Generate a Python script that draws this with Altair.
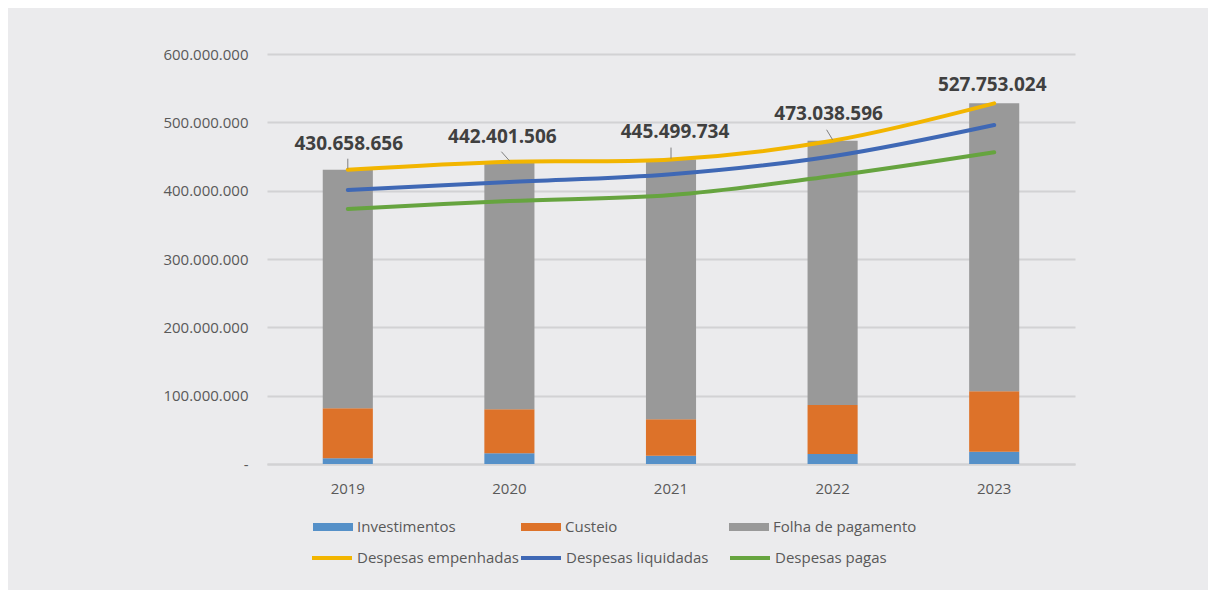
import altair as alt
import pandas as pd

years = ["2019", "2020", "2021", "2022", "2023"]
investimentos = [8_300_000, 15_600_000, 12_200_000, 14_600_000, 18_000_000]
custeio = [73_200_000, 64_400_000, 53_200_000, 71_800_000, 88_400_000]
folha = [349_158_656, 362_401_506, 380_099_734, 386_638_596, 421_353_024]
empenhadas = [430_658_656, 442_401_506, 445_499_734, 473_038_596, 527_753_024]
liquidadas = [401_000_000, 412_700_000, 424_000_000, 450_500_000, 496_200_000]
pagas = [373_200_000, 384_900_000, 393_700_000, 421_500_000, 456_200_000]

bar_series = ["Investimentos", "Custeio", "Folha de pagamento"]
bar_colors = ["#5590C8", "#DD7229", "#999999"]
line_series = ["Despesas empenhadas", "Despesas liquidadas", "Despesas pagas"]
line_colors = ["#F2B500", "#3F68B5", "#66A43F"]

rows = []
for i, y in enumerate(years):
    for k, (name, vals) in enumerate(zip(bar_series, [investimentos, custeio, folha])):
        rows.append({"ano": y, "serie": name, "valor": vals[i], "ordem": k})
bars_df = pd.DataFrame(rows)

lrows = []
for i, y in enumerate(years):
    for name, vals in zip(line_series, [empenhadas, liquidadas, pagas]):
        lrows.append({"ano": y, "serie": name, "valor": vals[i]})
lines_df = pd.DataFrame(lrows)

lab_df = pd.DataFrame({
    "ano": years,
    "valor": empenhadas,
    "rotulo": [f"{v:,}".replace(",", ".") for v in empenhadas],
})

FONT = "Open Sans"
x_enc = alt.X("ano:N", title=None, sort=years,
              scale=alt.Scale(paddingInner=0.69, paddingOuter=0.345),
              axis=alt.Axis(labelAngle=0, labelFontSize=15, labelColor="#595959",
                            labelFont=FONT, labelPadding=17, ticks=False,
                            domainColor="#D2D2D4", domainWidth=2))
y_scale = alt.Scale(domain=[0, 600_000_000])

bars = alt.Chart(bars_df).mark_bar().encode(
    x=x_enc,
    y=alt.Y("sum(valor):Q", title=None, scale=y_scale, stack="zero",
            axis=alt.Axis(values=[0, 100_000_000, 200_000_000, 300_000_000, 400_000_000,
                                  500_000_000, 600_000_000],
                          format=",.0f",
                          labelExpr="datum.value == 0 ? '-\u00a0\u00a0\u00a0' : datum.label",
                          labelFontSize=15, labelColor="#595959", labelFont=FONT,
                          labelPadding=19, ticks=False, domain=False,
                          gridColor="#D2D2D4", gridWidth=2)),
    fill=alt.Fill("serie:N", sort=bar_series,
                  scale=alt.Scale(domain=bar_series, range=bar_colors),
                  legend=alt.Legend(title=None, orient="none", legendX=46, legendY=453,
                                    direction="horizontal", columns=3, gridAlign="all",
                                    columnPadding=20, labelLimit=300,
                                    symbolType="M-1,-0.2H1V0.2H-1Z", symbolSize=1600,
                                    symbolStrokeWidth=0, labelOffset=4,
                                    labelFontSize=15, labelColor="#595959", labelFont=FONT,
                                    padding=0)),
    order=alt.Order("ordem:Q", sort="ascending"),
)

lines = alt.Chart(lines_df).mark_line(strokeWidth=4, interpolate="catmull-rom",
                                      strokeCap="round").encode(
    x=alt.X("ano:N", sort=years),
    y=alt.Y("valor:Q", scale=y_scale),
    stroke=alt.Stroke("serie:N", sort=line_series,
                      scale=alt.Scale(domain=line_series, range=line_colors),
                      legend=alt.Legend(title=None, orient="none", legendX=43, legendY=482,
                                        direction="horizontal", columns=3, gridAlign="all",
                                        columnPadding=-6, labelLimit=300,
                                        symbolType="stroke", symbolSize=1600,
                                        symbolStrokeWidth=4, labelOffset=3,
                                        labelFontSize=15, labelColor="#595959",
                                        labelFont=FONT, padding=0)),
)

label_style = {
    "2019": {"dx": 1, "dy": -26, "lx": 0, "ly1": -1, "ly2": -11},
    "2020": {"dx": -7, "dy": -25, "lx": -8, "ly1": -1, "ly2": -10},
    "2021": {"dx": 4, "dy": -28, "lx": 0, "ly1": -1, "ly2": -12},
    "2022": {"dx": -4, "dy": -27, "lx": -6, "ly1": -1, "ly2": -11},
    "2023": {"dx": -2, "dy": -18, "lx": None, "ly1": 0, "ly2": 0},
}

layers = [bars, lines]
for yr in years:
    st = label_style[yr]
    base = alt.Chart(lab_df).transform_filter(alt.datum.ano == yr)
    if st["lx"] is not None:
        layers.append(base.mark_rule(color="#7F7F7F", strokeWidth=1,
                                     yOffset=st["ly1"], y2Offset=st["ly2"],
                                     x2Offset=st["lx"]).encode(
            x=alt.X("ano:N", sort=years), x2="ano:N",
            y=alt.Y("valor:Q", scale=y_scale), y2="valor:Q"))
    layers.append(base.mark_text(fontSize=19, fontWeight="bold", font=FONT,
                                 color="#404040", dx=st["dx"], dy=st["dy"]).encode(
        x=alt.X("ano:N", sort=years),
        y=alt.Y("valor:Q", scale=y_scale),
        text="rotulo:N"))

chart = alt.layer(*layers).resolve_scale(fill="independent", stroke="independent").properties(
    width=808, height=410,
    padding={"left": 259, "top": 46, "right": 133, "bottom": 126},
    autosize=alt.AutoSizeParams(type="none"),
    background="#EBEBED",
).configure(
    locale={"number": {"decimal": ",", "thousands": ".", "grouping": [3],
                       "currency": ["R$", ""]}}
).configure_view(stroke=None)

chart.save("out.html", embed_options={"renderer": "svg", "actions": False})
